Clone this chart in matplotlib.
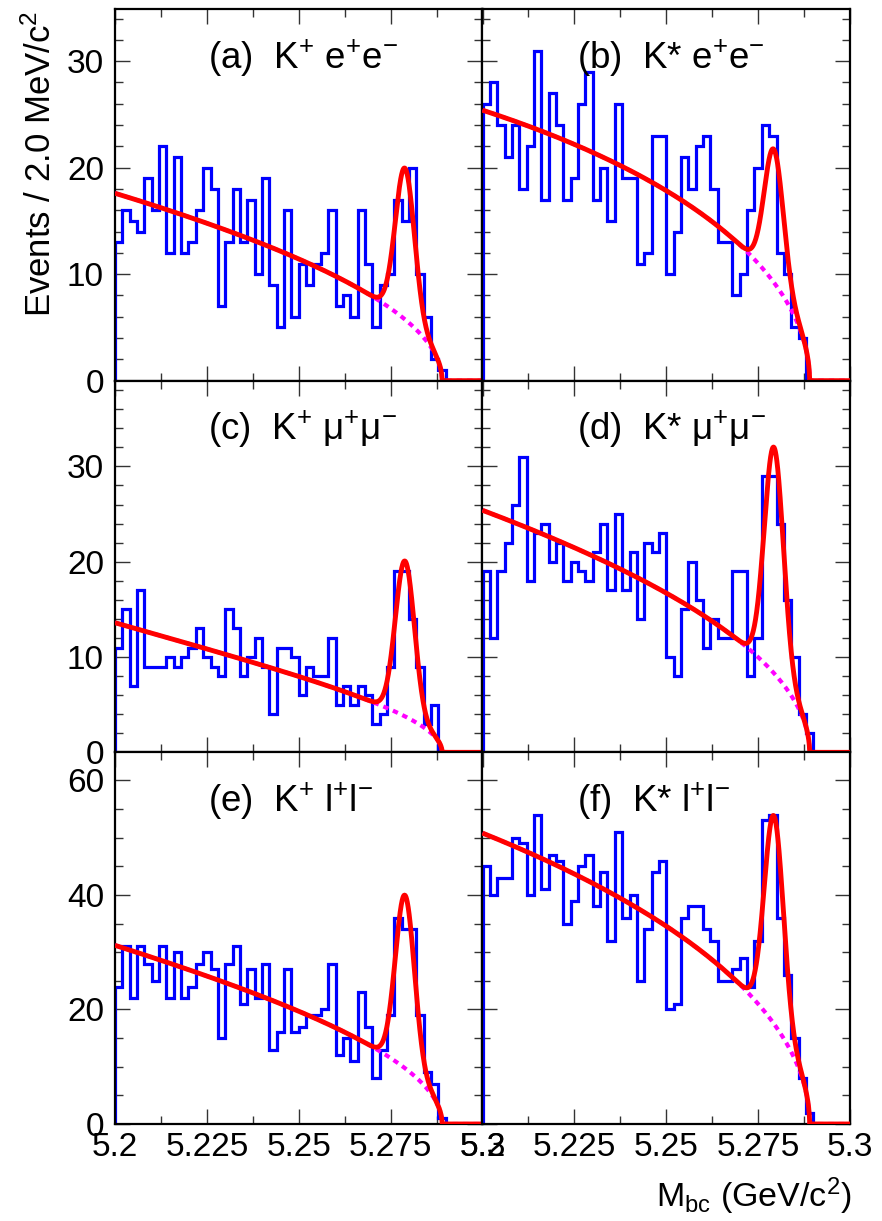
import numpy as np
import matplotlib
matplotlib.use("Agg")
import matplotlib.pyplot as plt
from matplotlib.ticker import MultipleLocator

plt.rcParams['font.family'] = ['Liberation Sans', 'DejaVu Sans']
plt.rcParams['mathtext.fontset'] = 'custom'
plt.rcParams['mathtext.rm'] = 'Liberation Sans'
plt.rcParams['mathtext.it'] = 'Liberation Sans:italic'
plt.rcParams['mathtext.bf'] = 'Liberation Sans:bold'

# ---------------- data ----------------
x_min, x_max, n_bins = 5.2, 5.3, 50

counts_a = [13,16,15,14,19,16,22,12,21,12, 13,16,20,18,7,13,18,13,17,10,
            19,9,5,16,6,11,9,11,12,16, 7,8,6,16,11,5,9,10,17,15,
            20,10,6,2,1,0,0,0,0,0]
counts_b = [26,28,24,21,24,18,22,31,17,27, 24,17,19,26,29,17,20,15,26,19,
            19,11,12,23,23,10,14,21,18,22, 23,18,13,13,8,10,16,20,24,23,
            12,10,5,4,0,0,0,0,0,0]
counts_c = [11,15,7,17,9,9,9,10,9,10, 11,13,10,9,8,15,13,8,10,12,
            9,4,11,11,10,6,9,8,8,12, 5,7,5,7,6,3,4,9,19,19,
            14,9,3,5,0,0,0,0,0,0]
counts_d = [19,12,19,22,26,31,18,23,24,20, 22,18,20,19,18,21,24,17,25,17,
            21,14,22,21,23,10,8,15,20,16, 11,14,12,12,19,19,8,12,29,29,
            24,16,10,4,2,0,0,0,0,0]
counts_e = [24,31,22,31,28,25,31,22,30,22, 24,28,30,27,15,28,31,21,27,22,
            28,13,16,27,16,17,19,19,20,28, 12,15,11,23,17,8,13,19,36,34,
            34,19,9,7,1,0,0,0,0,0]
counts_f = [45,40,43,43,50,49,40,54,41,47, 46,35,39,45,47,38,44,32,51,36,
            40,25,34,44,46,20,21,36,38,38, 34,32,25,25,27,29,24,32,53,54,
            36,26,15,8,2,0,0,0,0,0]

panel_titles = [
    r"(a)  K$^{\mathregular{+}}$ e$^{\mathregular{+}}$e$^{\mathregular{-}}$",
    r"(b)  K* e$^{\mathregular{+}}$e$^{\mathregular{-}}$",
    r"(c)  K$^{\mathregular{+}}$ μ$^{\mathregular{+}}$μ$^{\mathregular{-}}$",
    r"(d)  K* μ$^{\mathregular{+}}$μ$^{\mathregular{-}}$",
    r"(e)  K$^{\mathregular{+}}$ l$^{\mathregular{+}}$l$^{\mathregular{-}}$",
    r"(f)  K* l$^{\mathregular{+}}$l$^{\mathregular{-}}$",
]

# fit parameters per panel: ARGUS norm at 5.2, ARGUS shape, endpoint,
# Gaussian amplitude, mean, sigma
argus_norm = [17.6, 25.4, 13.6, 25.4, 31.2, 50.8]
argus_shape = [1.67, -2.54, 7.2, 0.96, 3.2, -0.8]
argus_end = [5.289, 5.289, 5.289, 5.289, 5.289, 5.289]
sig_amp = [14.2, 12.5, 16.3, 23.7, 30.2, 36.3]
sig_mean = [5.2789, 5.2793, 5.2789, 5.2793, 5.2789, 5.2793]
sig_width = [0.0026, 0.0026, 0.0026, 0.0026, 0.0026, 0.0026]

row_ylim = [34.9, 39.0, 64.9]
row_ymajor = [10, 10, 20]
row_yminor = [2, 2, 5]
xticks = [5.2, 5.225, 5.25, 5.275, 5.3]
xtick_labels = ["5.2", "5.225", "5.25", "5.275", "5.3"]

all_counts = [counts_a, counts_b, counts_c, counts_d, counts_e, counts_f]


def argus(m, e0, xi):
    u = np.clip(1.0 - (m / e0) ** 2, 0, None)
    return m * np.sqrt(u) * np.exp(xi * u)


fig = plt.figure(figsize=(8.82, 12.21), dpi=100)
gs = fig.add_gridspec(3, 2, left=115/882, right=850/882,
                      top=1-9/1221, bottom=1-1124/1221,
                      wspace=0, hspace=0)

edges = np.linspace(x_min, x_max, n_bins + 1)
mm = np.linspace(x_min, x_max, 2000)

for i in range(6):
    r, c = divmod(i, 2)
    ax = fig.add_subplot(gs[r, c])
    ax.stairs(all_counts[i], edges, baseline=0, color='#0000ff', lw=2.3, zorder=2)
    bg = argus_norm[i] * argus(mm, argus_end[i], argus_shape[i]) / \
        argus(np.array(x_min), argus_end[i], argus_shape[i])
    sig = sig_amp[i] * np.exp(-0.5 * ((mm - sig_mean[i]) / sig_width[i]) ** 2)
    ax.plot(mm, bg, color='#ff00ff', lw=3.0, ls=(0, (1.3, 1.2)), zorder=3)
    ax.plot(mm, bg + sig, color='#ff0000', lw=3.5, zorder=4, solid_capstyle='butt')

    ax.set_xlim(x_min, x_max)
    ax.set_ylim(0, row_ylim[r])
    ax.xaxis.set_major_locator(MultipleLocator(0.025))
    ax.xaxis.set_minor_locator(MultipleLocator(0.0125))
    ax.yaxis.set_major_locator(MultipleLocator(row_ymajor[r]))
    ax.yaxis.set_minor_locator(MultipleLocator(row_yminor[r]))
    ax.tick_params(which='both', direction='in', top=True, right=True,
                   width=1.0, color='#333333', labelsize=24)
    ax.tick_params(which='major', length=11)
    ax.tick_params(which='minor', length=6)
    ax.tick_params(axis='x', pad=6)
    ax.tick_params(axis='y', pad=8)
    for sp in ax.spines.values():
        sp.set_linewidth(1.6)
    if r == 2:
        ax.set_xticks(xticks)
        ax.set_xticklabels(xtick_labels)
    else:
        ax.tick_params(axis='x', labelbottom=False)
    if c == 1:
        ax.tick_params(axis='y', labelleft=False)
    tx = 0.253 if c == 0 else 0.258
    ax.text(tx, 0.84, panel_titles[i], transform=ax.transAxes,
            fontsize=26.5, ha='left', va='baseline', zorder=5)

fig.text(41/882, 1-11/1221, r"Events / 2.0 MeV/c$^{\mathregular{2}}$",
         rotation=90, ha='center', va='top', fontsize=25)
fig.text(852/882, 1-1207/1221, r"M$_{\mathregular{bc}}$ (GeV/c$^{\mathregular{2}}$)",
         ha='right', va='baseline', fontsize=24.5)

fig.savefig("out.png", dpi=100, facecolor='white')
